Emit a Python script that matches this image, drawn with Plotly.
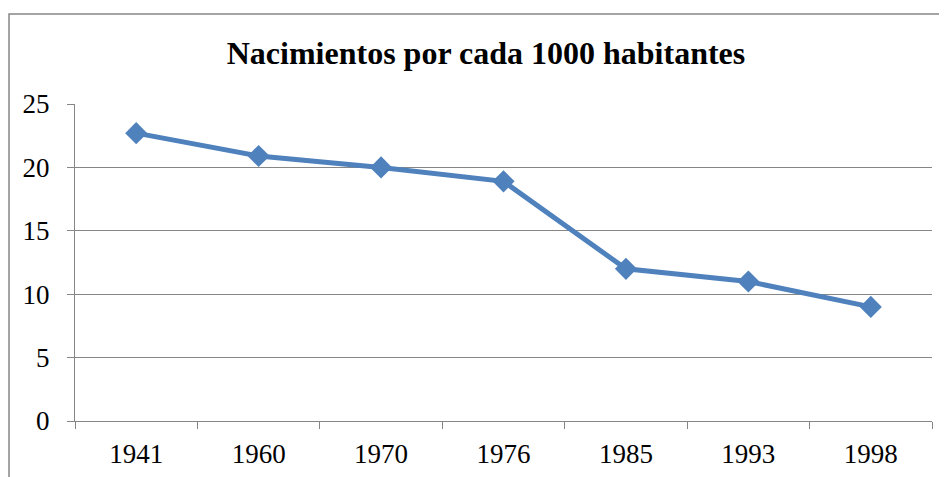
import plotly.graph_objects as go

years = ["1941", "1960", "1970", "1976", "1985", "1993", "1998"]
births = [22.7, 20.9, 20.0, 18.9, 12.0, 11.0, 9.0]
y_ticks = [0, 5, 10, 15, 20, 25]
title_text = "Nacimientos por cada 1000 habitantes"

OFF = 8  # page body margin
W, H = 947 - OFF, 477 - OFF
L, R, T, B = 75 - OFF, 15, 104 - OFF, 56
pw, ph = W - L - R, H - T - B

FONT = "Liberation Serif"

fig = go.Figure()
fig.add_trace(go.Scatter(
    x=years, y=births, mode="lines+markers",
    line=dict(color="#4F81BD", width=5),
    marker=dict(symbol="diamond", size=17, color="#4F81BD"),
    hoverinfo="x+y", showlegend=False,
))

grid = "#868686"
fig.update_layout(
    width=W, height=H,
    margin=dict(l=L, r=R, t=T, b=B, pad=0, autoexpand=False),
    paper_bgcolor="white", plot_bgcolor="white",
    font=dict(family=FONT, color="black", size=27),
    title=dict(text="<b>" + title_text + "</b>", x=(486 - 75) / pw, xref="paper",
               xanchor="center", y=1 - (53 - OFF) / H, yref="container", yanchor="middle",
               font=dict(size=32, family=FONT, color="black")),
    xaxis=dict(type="category", range=[-0.5, len(years) - 0.5], showgrid=False,
               showline=True, linecolor=grid, linewidth=1, automargin=False,
               ticks="outside", tickson="boundaries", ticklen=7, tickcolor=grid,
               tickfont=dict(size=27, family=FONT), zeroline=False, ticklabelstandoff=9),
    yaxis=dict(range=[0, 25], tickvals=y_ticks, showgrid=True, gridcolor=grid, gridwidth=1,
               showline=True, linecolor=grid, linewidth=1, ticks="outside", ticklen=7,
               automargin=False,
               tickcolor=grid, tickfont=dict(size=27, family=FONT), zeroline=False,
               ticklabelstandoff=12),
)

fig.add_shape(type="rect", xref="paper", yref="paper",
              x0=(9 - 75) / pw, x1=(952 - 75) / pw,
              y0=(421 - 485) / ph, y1=(421 - 14) / ph,
              line=dict(color=grid, width=1.5), fillcolor="rgba(0,0,0,0)", layer="below")

fig.write_html("out.html")
